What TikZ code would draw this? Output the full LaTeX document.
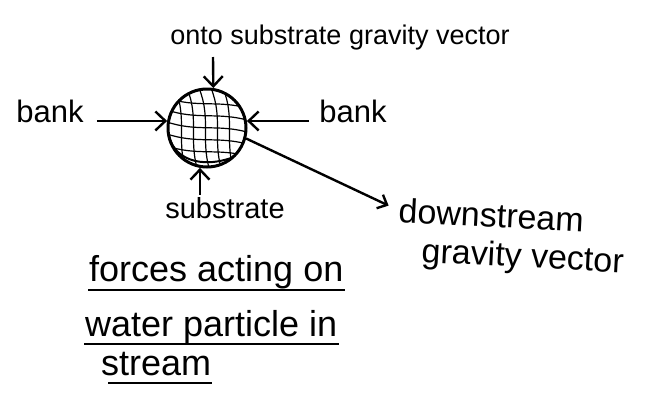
\documentclass[tikz,border=0pt]{standalone}
\usepackage{fontspec}
\setmainfont{Liberation Sans}
\usetikzlibrary{arrows.meta}

\tikzset{
  force/.style={line width=2.4pt, -{Straight Barb[length=10pt,width=19pt]}},
  lbl/.style={font=\fontsize{#1}{#1}\selectfont, inner sep=1pt},
  lbl/.default=31
}

\begin{document}
\begin{tikzpicture}[x=1pt, y=-1pt]
\useasboundingbox (0,0) rectangle (655,402);
% Particle
\node[circle, draw, line width=3pt, minimum size=78pt, inner sep=0pt] (particle) at (207,128) {};
\begin{scope}[shift={(particle.center)}, line width=1.2pt]
  \clip (0,0) circle (38pt);
  \foreach \d in {-26,-14,-2,10,22}
    \draw (\d-6,-40) .. controls (\d+6,-10) and (\d-4,10) .. (\d+4,40);
  \foreach \d in {-26,-14,-2,10,22}
    \draw (-40,\d-4) .. controls (-10,\d+6) and (10,\d-2) .. (40,\d+6);
  \draw[line width=2pt] (-38,8) .. controls (-32,34) and (0,42) .. (34,26);
\end{scope}
% Labels
\node[lbl=27, anchor=base] (onto) at (340,44) {onto substrate gravity vector};
\node[lbl, anchor=base] (bankL) at (50,122) {bank};
\node[lbl, anchor=base] (bankR) at (353,122) {bank};
\node[lbl=29, anchor=base] (substrate) at (225,218) {substrate};
\node[lbl=34, anchor=base west, rotate=-3] (down) at (397,222) {downstream};
\node[lbl=34, anchor=base west, rotate=-3] (gravity) at (420,262) {gravity vector};
% Forces
\coordinate (ontotail) at (213,57);
\draw[force] (ontotail) -- (particle.81);
\draw[force, shorten <=12pt] (bankL.east |- particle.170) -- (particle.170);
\draw[force, shorten <=9pt] (bankR.west |- particle.10) -- (particle.10);
\draw[force, shorten <=1pt] (substrate.north -| particle.-100) -- (particle.-100);
\draw[force, -{Straight Barb[length=8pt,width=15pt]}, shorten >=10pt] (particle.-15) -- (down.west);
% Title
\node[lbl=36, anchor=base west] (title1) at (88,281) {forces acting on};
\node[lbl=36, anchor=base west] (title2) at (84,336) {water particle in};
\node[lbl=36, anchor=base west] (title3) at (100,375) {stream};
\draw[line width=2.2pt] ([yshift=-9pt]title1.base west) -- ([yshift=-9pt]title1.base east);
\draw[line width=2.2pt] ([yshift=-8pt]title2.base west) -- ([yshift=-8pt]title2.base east);
\draw[line width=2.2pt] ([xshift=8pt,yshift=-8pt]title3.base west) -- ([yshift=-8pt]title3.base east);
\end{tikzpicture}
\end{document}
